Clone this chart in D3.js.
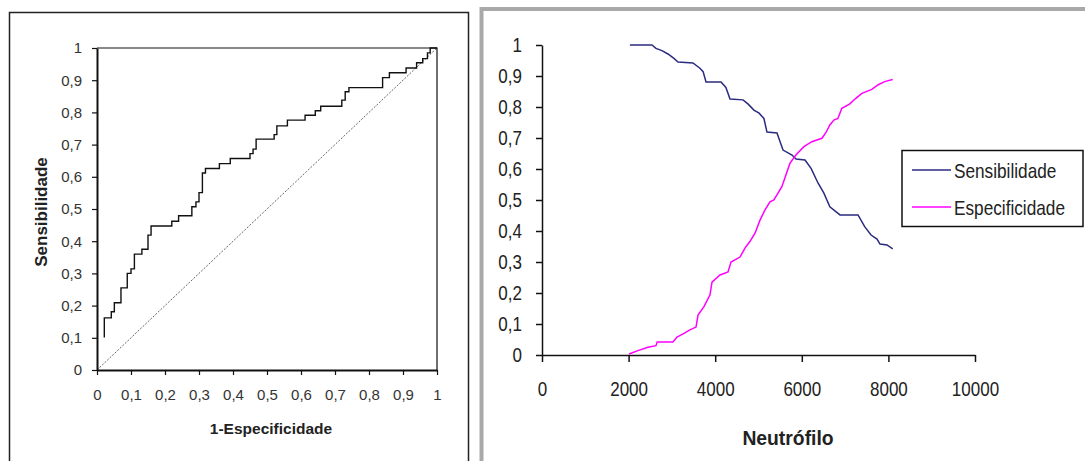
<!DOCTYPE html>
<html>
<head>
<meta charset="utf-8">
<script src="https://cdnjs.cloudflare.com/ajax/libs/d3/7.8.5/d3.min.js"></script>
<style>
  body { margin: 0; background: #fff; }
  svg { display: block; font-family: "Liberation Sans", Arial, sans-serif; }
</style>
</head>
<body>
<div id="chart"></div>
<script>
// ROC curve (left panel): step corners, level after each rise
const rocFpr = [0.0215, 0.0215, 0.042, 0.051, 0.0705, 0.089, 0.10, 0.11, 0.132, 0.15, 0.159, 0.22, 0.24, 0.279, 0.291, 0.30, 0.31, 0.319, 0.36, 0.392, 0.45, 0.459, 0.468, 0.521, 0.529, 0.56, 0.612, 0.642, 0.658, 0.72, 0.73, 0.741, 0.84, 0.86, 0.909, 0.94, 0.958, 0.972, 0.98, 1.0];
const rocTpr = [0.101, 0.162, 0.181, 0.209, 0.255, 0.30, 0.314, 0.36, 0.375, 0.419, 0.447, 0.462, 0.479, 0.507, 0.522, 0.551, 0.612, 0.626, 0.641, 0.657, 0.672, 0.686, 0.717, 0.731, 0.758, 0.776, 0.791, 0.805, 0.819, 0.838, 0.864, 0.877, 0.908, 0.923, 0.938, 0.954, 0.967, 0.985, 1.0, 1.0];
const unitTicks = [0, 0.1, 0.2, 0.3, 0.4, 0.5, 0.6, 0.7, 0.8, 0.9, 1];

// sensibilidade / especificidade vs neutrófilo (right panel)
const sensX = [2031, 2540, 2632, 2770, 2909, 3047, 3141, 3487, 3647, 3721, 3788, 4134, 4247, 4342, 4642, 4756, 4894, 5014, 5125, 5196, 5427, 5566, 5774, 5866, 6074, 6214, 6374, 6510, 6648, 6882, 7298, 7452, 7600, 7737, 7806, 7968, 8100];
const sensY = [1.0, 1.0, 0.989, 0.982, 0.971, 0.957, 0.945, 0.942, 0.925, 0.914, 0.881, 0.881, 0.863, 0.826, 0.823, 0.810, 0.790, 0.780, 0.763, 0.719, 0.716, 0.661, 0.645, 0.632, 0.629, 0.602, 0.555, 0.522, 0.478, 0.452, 0.452, 0.414, 0.387, 0.374, 0.358, 0.355, 0.342];
const espX = [2010, 2216, 2447, 2632, 2660, 3025, 3118, 3278, 3416, 3557, 3603, 3740, 3880, 3926, 4111, 4296, 4365, 4573, 4688, 4801, 4919, 5035, 5150, 5266, 5356, 5540, 5633, 5725, 5864, 6048, 6233, 6464, 6556, 6648, 6740, 6833, 6925, 7110, 7248, 7387, 7618, 7756, 7913, 8100];
const espY = [0.003, 0.014, 0.025, 0.030, 0.042, 0.042, 0.058, 0.070, 0.081, 0.090, 0.129, 0.156, 0.194, 0.235, 0.258, 0.268, 0.300, 0.316, 0.345, 0.366, 0.393, 0.435, 0.468, 0.494, 0.500, 0.543, 0.581, 0.618, 0.645, 0.672, 0.688, 0.699, 0.717, 0.742, 0.758, 0.763, 0.796, 0.810, 0.828, 0.844, 0.857, 0.871, 0.882, 0.889];
const neutTicks = [0, 2000, 4000, 6000, 8000, 10000];
const seriesNames = ["Sensibilidade", "Especificidade"];
const seriesColors = ["#2b2b80", "#ff00ff"];

const W = 1085, H = 461;
const svg = d3.select("#chart").append("svg")
  .attr("width", W).attr("height", H);

const ptFmt = d3.formatLocale({ decimal: ",", thousands: ".", grouping: [3], currency: ["", ""] }).format("~g");

// squeeze a text to a share of its natural width
function squeeze(sel, k) {
  sel.each(function () {
    const w = this.getComputedTextLength();
    this.setAttribute("textLength", w * k);
    this.setAttribute("lengthAdjust", "spacingAndGlyphs");
  });
}

// ---------- panel frames ----------
svg.append("rect")
  .attr("x", 9.5).attr("y", 12.5).attr("width", 459).attr("height", 470)
  .attr("fill", "none").attr("stroke", "#222").attr("stroke-width", 1.5);
svg.append("rect")
  .attr("x", 481.5).attr("y", 9).attr("width", 700).attr("height", 470)
  .attr("fill", "none").attr("stroke", "#a9a9a9").attr("stroke-width", 4);

// ---------- left: ROC ----------
const lx = d3.scaleLinear().domain([0, 1]).range([97, 437]);
const ly = d3.scaleLinear().domain([0, 1]).range([370, 48]);

const left = svg.append("g");
// plot box top/right
left.append("path")
  .attr("d", `M${lx(0)},${ly(1)}H${lx(1)}V${ly(0)}`)
  .attr("fill", "none").attr("stroke", "#111").attr("stroke-width", 1.2);

left.append("line")
  .attr("x1", lx(0)).attr("y1", ly(0)).attr("x2", lx(1)).attr("y2", ly(1))
  .attr("stroke", "#666").attr("stroke-width", 1).attr("stroke-dasharray", "2,1.5");

const rocPts = rocFpr.map((d, i) => [d, rocTpr[i]]);
left.append("path")
  .datum(rocPts)
  .attr("fill", "none").attr("stroke", "#111").attr("stroke-width", 1.4)
  .attr("d", d3.line().x(d => lx(d[0])).y(d => ly(d[1])).curve(d3.curveStepAfter));

const lax = left.append("g").attr("transform", `translate(0,${ly(0)})`)
  .call(d3.axisBottom(lx).tickValues(unitTicks).tickFormat(ptFmt).tickSize(5).tickSizeOuter(0).tickPadding(14));
const lay = left.append("g").attr("transform", `translate(${lx(0)},0)`)
  .call(d3.axisLeft(ly).tickValues(unitTicks).tickFormat(ptFmt).tickSize(5).tickSizeOuter(0).tickPadding(10));
[lax, lay].forEach(a => {
  a.select(".domain").attr("stroke", "#111").attr("stroke-width", 2);
  a.selectAll(".tick line").attr("stroke", "#111").attr("stroke-width", 1.2);
  a.selectAll("text").attr("fill", "#333").style("font-size", "15px").style("font-family", "Liberation Sans, Arial, sans-serif");
});

left.append("text")
  .attr("x", 271).attr("y", 434).attr("text-anchor", "middle")
  .style("font-size", "15.5px").style("font-weight", "bold").attr("fill", "#222")
  .text("1-Especificidade");
left.append("text")
  .attr("transform", "translate(47,212) rotate(-90)").attr("text-anchor", "middle")
  .style("font-size", "17px").style("font-weight", "bold").attr("fill", "#222")
  .text("Sensibilidade");

// ---------- right: sens/esp vs neutrófilo ----------
const rx = d3.scaleLinear().domain([0, 10000]).range([542, 975]);
const ry = d3.scaleLinear().domain([0, 1]).range([355, 45]);
const right = svg.append("g");

const rax = right.append("g").attr("transform", `translate(0,${ry(0)})`)
  .call(d3.axisBottom(rx).tickValues(neutTicks).tickFormat(d3.format("d")).tickSize(7).tickSizeOuter(0).tickPadding(20));
const ray = right.append("g").attr("transform", `translate(${rx(0)},0)`)
  .call(d3.axisLeft(ry).tickValues(unitTicks).tickFormat(ptFmt).tickSize(6).tickSizeOuter(0).tickPadding(14));
[rax, ray].forEach(a => {
  a.select(".domain").attr("stroke", "#111").attr("stroke-width", 1.5);
  a.selectAll(".tick line").attr("stroke", "#111").attr("stroke-width", 1.5);
  a.selectAll("text").attr("fill", "#222").style("font-size", "20px").style("font-family", "Liberation Sans, Arial, sans-serif");
  squeeze(a.selectAll("text"), 0.85);
});

const series = [
  sensX.map((d, i) => [d, sensY[i]]),
  espX.map((d, i) => [d, espY[i]])
];
const rline = d3.line().x(d => rx(d[0])).y(d => ry(d[1]));
right.selectAll(".serie")
  .data(series)
  .join("path")
  .attr("class", "serie")
  .attr("fill", "none")
  .attr("stroke", (d, i) => seriesColors[i])
  .attr("stroke-width", 1.5)
  .attr("d", rline);

right.append("text")
  .attr("x", 788).attr("y", 445).attr("text-anchor", "middle")
  .style("font-size", "21px").style("font-weight", "bold").attr("fill", "#222")
  .text("Neutrófilo")
  .call(squeeze, 0.92);

// legend
const leg = right.append("g");
leg.append("rect")
  .attr("x", 902).attr("y", 150.5).attr("width", 181).attr("height", 76)
  .attr("fill", "#fff").attr("stroke", "#111").attr("stroke-width", 1.5);
const legRow = leg.selectAll(".row").data(seriesNames).join("g")
  .attr("class", "row")
  .attr("transform", (d, i) => `translate(0,${170 + i * 37})`);
legRow.append("line")
  .attr("x1", 912).attr("x2", 951)
  .attr("stroke", (d, i) => seriesColors[i]).attr("stroke-width", 1.5);
// narrow legend text: scaled horizontally instead of textLength
legRow.append("g")
  .attr("transform", "translate(954,7.5) scale(0.82,1)")
  .append("text")
  .style("font-size", "21px").attr("fill", "#222")
  .text(d => d);
</script>
</body>
</html>
